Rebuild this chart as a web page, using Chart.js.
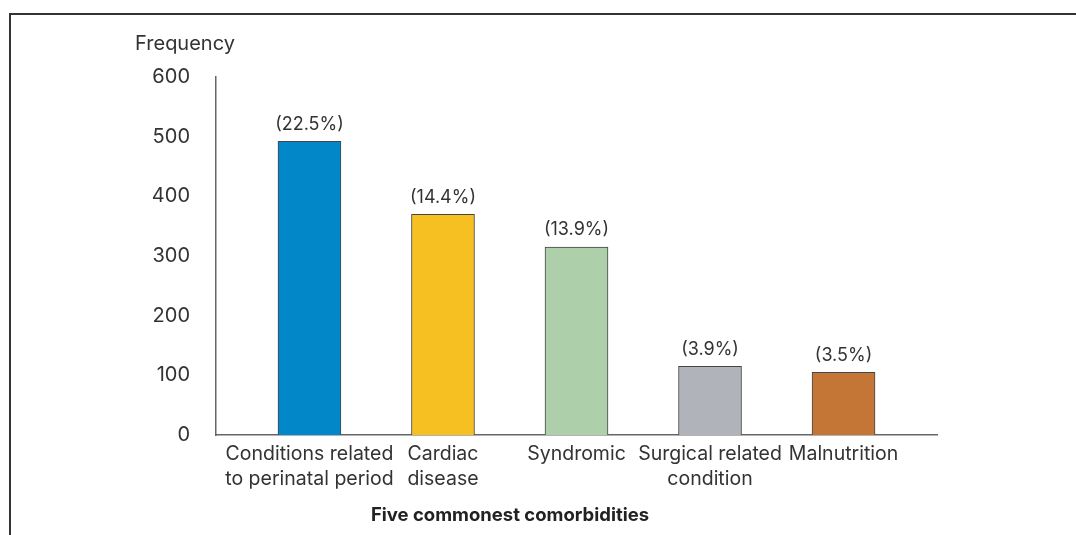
<!DOCTYPE html>
<html>
<head>
<meta charset="utf-8">
<script src="https://cdn.jsdelivr.net/npm/chart.js@4"></script>
<style>
  body { margin: 0; background: #fff; }
  #wrap { position: relative; width: 1076px; height: 535px; overflow: hidden; }
  #frame { position: absolute; left: 9px; top: 13px; width: 1080px; height: 540px;
           border-top: 2px solid #333; border-left: 2px solid #333; }
  #box { position: absolute; left: 0; top: 0; width: 1076px; height: 535px; }
</style>
</head>
<body>
<div id="wrap">
  <div id="frame"></div>
  <div id="box"><canvas id="bar-chart"></canvas></div>
</div>
<script>
var categories = [
  ['Conditions related', 'to perinatal period'],
  ['Cardiac', 'disease'],
  ['Syndromic'],
  ['Surgical related', 'condition'],
  ['Malnutrition']
];
var frequency = [492, 370, 315, 115, 105];
var percents = ['(22.5%)', '(14.4%)', '(13.9%)', '(3.9%)', '(3.5%)'];
var barColors = ['#0287C9', '#F6C023', '#ADCFAA', '#B1B3BA', '#C47636'];
var yTicks = [0, 100, 200, 300, 400, 500, 600];

var FONT = 'Inter, "Noto Sans", sans-serif';

var extraText = {
  id: 'extraText',
  afterDatasetsDraw: function(chart) {
    var ctx = chart.ctx;
    ctx.save();
    ctx.fillStyle = '#333';
    ctx.textAlign = 'center';
    ctx.textBaseline = 'middle';
    ctx.font = '18px ' + FONT;
    chart.getDatasetMeta(0).data.forEach(function(bar, i) {
      ctx.fillText(percents[i], bar.x, bar.y - 17);
    });
    ctx.font = '20px ' + FONT;
    ctx.fillText('Frequency', 185, 44);
    ctx.font = 'bold 18.5px ' + FONT;
    ctx.fillStyle = '#222';
    ctx.fillText('Five commonest comorbidities', 510, 515);
    ctx.restore();
  }
};

new Chart(document.getElementById('bar-chart'), {
  type: 'bar',
  data: {
    datasets: [{
      data: frequency.map(function(v, i) { return { x: i, y: v }; }),
      backgroundColor: barColors,
      borderColor: '#444',
      borderWidth: 1,
      barThickness: 63
    }]
  },
  options: {
    responsive: true,
    maintainAspectRatio: false,
    animation: false,
    devicePixelRatio: 1,
    layout: { padding: { top: 77, right: 139, left: 0, bottom: 0 } },
    plugins: { legend: { display: false }, tooltip: { enabled: false } },
    scales: {
      x: {
        type: 'linear',
        min: -0.7,
        max: 4.7,
        offset: false,
        grid: { display: false, drawTicks: false },
        border: { display: true, color: '#666', width: 1.5 },
        afterBuildTicks: function(s) {
          s.ticks = categories.map(function(c, i) { return { value: i }; });
        },
        afterFit: function(s) { s.height = 100; },
        ticks: {
          autoSkip: false,
          maxRotation: 0,
          padding: 7,
          color: '#333',
          font: { family: FONT, size: 19.5, lineHeight: 1.28 },
          callback: function(v) { return categories[v] || ''; }
        }
      },
      y: {
        min: 0,
        max: 600,
        grid: { display: false, drawTicks: false },
        border: { display: true, color: '#666', width: 1.5 },
        afterBuildTicks: function(s) {
          s.ticks = yTicks.map(function(v) { return { value: v }; });
        },
        afterFit: function(s) { s.width = 216; },
        ticks: {
          padding: 26,
          color: '#333',
          font: { family: FONT, size: 20 }
        }
      }
    }
  },
  plugins: [extraText]
});
</script>
</body>
</html>
